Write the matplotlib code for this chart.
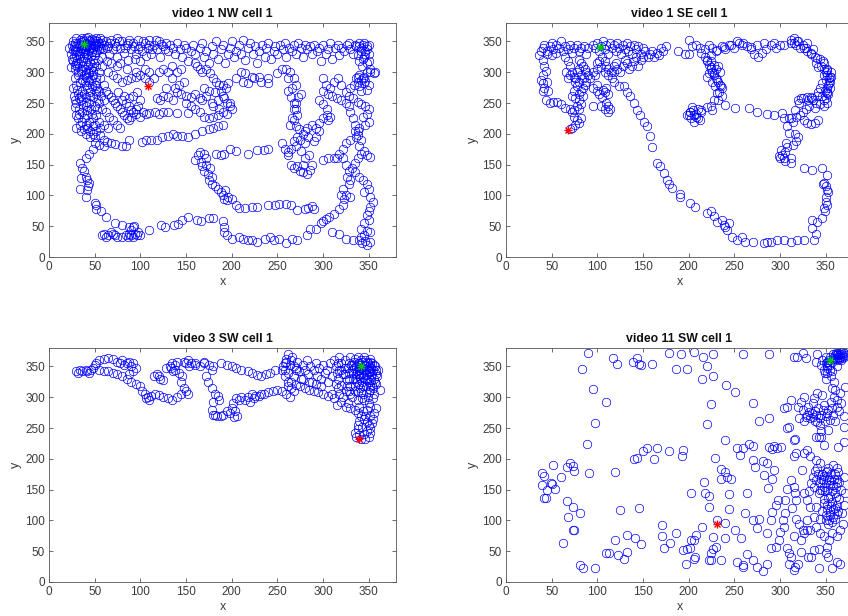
import numpy as np
import matplotlib
matplotlib.use("Agg")
import matplotlib.pyplot as plt

plt.rcParams['font.family'] = ['Liberation Sans', 'DejaVu Sans']

titles = ["video 1 NW cell 1", "video 1 SE cell 1", "video 3 SW cell 1", "video 11 SW cell 1"]
tick_values = [0, 50, 100, 150, 200, 250, 300, 350]

# ---- panel 1: video 1 NW ----
nw_pts = [
 (22,340),(25,345),(26,350),(28,335),(30,355),(30,342),(32,348),(33,330),(34,352),(35,340),(36,345),(37,335),(38,350),(39,342),
 (40,355),(41,338),(42,346),(43,330),(44,352),(45,340),(46,345),(47,333),(48,350),(50,342),(52,355),(53,336),(55,348),(57,340),
 (58,352),(60,345),(27,325),(31,320),(35,318),(38,325),(42,322),(45,315),(48,320),(50,328),(24,308),(28,305),(32,300),(36,310),
 (40,305),(44,298),(48,302),(52,310),(38,295),(42,290),(30,315),(26,318),(29,338),(33,344),(37,352),(41,347),(44,336),(49,345),
 (52,348),(55,338),(34,326),(39,332),(46,326),(51,333),(29,348),(36,356),(43,357),(50,352),(56,355),(24,330),(31,310),(47,308),
 (27,342),(31,335),(35,349),(38,338),(42,341),(45,350),(48,337),(51,346),(54,342),(57,347),(26,336),(30,328),(34,334),(40,328),
 (44,344),(47,354),(53,351),(59,338),(32,315),(37,318),(43,312),(49,315),(54,320),(25,322),(29,312),(36,303),(41,299),(46,305),
 (62,350),(65,343),(68,352),(70,338),(72,347),(75,355),(78,340),(80,350),(82,332),(85,345),(88,353),(90,338),(92,348),(95,330),
 (98,352),(100,342),(102,335),(105,348),(108,340),(110,352),(112,330),(115,345),(118,338),(120,350),(122,325),(125,342),(128,348),
 (130,335),(66,330),(74,325),(86,320),(94,322),(100,318),(106,326),(58,325),(64,318),(78,315),(63,340),(67,347),(73,342),(77,350),
 (83,340),(87,348),(93,343),(97,337),(103,350),(109,345),(113,338),(117,352),(123,346),(127,338),
 (133,345),(136,340),(138,330),(140,348),(143,338),(146,325),(148,345),(150,340),(152,318),(155,335),(158,345),(160,330),(162,310),
 (165,340),(168,348),(170,325),(172,335),(175,315),(178,342),(180,330),(183,350),(185,322),(188,338),(190,345),(193,315),(196,330),
 (198,340),(200,350),(203,325),(205,335),(208,345),(210,330),(212,352),(215,320),(218,340),(220,348),(223,330),(226,342),(228,315),
 (230,335),(233,345),(236,325),(238,340),(240,348),(243,322),(246,335),(248,343),(250,330),(253,345),(256,338),(258,348),(260,325),
 (263,340),(266,335),(268,345),(270,330),(273,348),(276,340),(278,325),(280,345),(283,338),(286,342),(288,330),(290,345),(293,335),
 (296,340),(298,318),(300,345),(303,330),(306,338),(308,348),(310,322),(313,340),(316,345),(318,328),(320,340),(323,335),(326,345),
 (328,348),(330,338),(333,330),(336,342),(339,348),(342,340),(344,345),(346,335),(348,342),(350,330),(345,325),(340,318),(343,310),
 (348,315),(352,305),(357,300),
 (160,315),(165,305),(168,300),(172,305),(176,298),(180,290),(183,285),(186,280),(188,270),(190,262),(192,258),(195,250),(198,245),
 (200,240),(182,268),(185,255),(178,250),(180,245),(190,280),(194,275),(196,282),(170,275),(175,270),(172,262),(168,255),(165,258),
 (160,265),(155,260),(150,262),(145,265),(140,268),(138,275),(142,280),(148,285),(135,290),(130,300),(125,305),(120,300),(140,300),
 (145,305),(135,310),(128,275),(125,262),(122,255),(118,258),(130,260),(136,255),(150,250),(155,245),(160,240),(165,235),(170,228),
 (175,225),(180,228),(185,230),(103,236),(106,232),(110,234),(116,235),(120,232),(125,235),(130,236),(140,234),(152,234),
 (60,280),(62,270),(65,265),(68,260),(70,255),(72,250),(75,245),(78,240),(80,235),(82,230),(85,225),(88,222),(90,228),(92,235),
 (95,240),(98,245),(100,255),(65,300),(70,295),(75,290),(80,285),(85,288),(90,290),(95,292),(100,295),(105,290),(110,285),(115,290),
 (110,300),(105,305),(95,300),(85,305),(75,310),(68,315),(60,255),(55,250),(58,240),(62,235),(66,228),(70,222),(74,215),(78,210),
 (65,210),(60,215),(55,220),(52,205),(56,198),(60,190),(64,186),(68,185),(72,183),(48,212),(45,205),(50,195),(40,215),(36,220),
 (32,225),(30,230),(33,240),(30,250),(35,255),(40,260),(32,265),(36,270),(42,275),(30,280),(34,285),(40,280),(45,268),(48,260),
 (52,265),(55,270),(50,280),(46,288),(52,292),(55,300),(58,310),(30,210),(35,205),(40,200),(45,195),(50,185),(55,182),(60,180),
 (76,268),(82,262),(88,258),(92,262),(96,268),(84,250),(88,245),(90,238),(95,232),(100,228),(80,255),
 (28,290),(32,295),(36,288),(40,292),(44,285),(48,295),(52,285),(56,290),(26,275),(38,265),(44,250),(50,245),(54,255),(46,240),
 (40,245),(36,235),(42,230),(48,225),(52,230),(38,225),(34,215),(42,210),(50,215),(56,210),(27,262),(33,258),(29,244),(37,247),
 (47,278),(53,275),(43,300),(35,302),(31,272),(39,284),(45,262),(51,270),(35,262),(41,252),(47,232),(33,232),(44,220),(38,208),
 (48,200),(53,240),(57,262),(28,255),(42,238),
 (48,175),(44,168),(40,160),(34,152),(36,145),(38,140),(40,130),(35,128),(34,110),(40,98),(44,120),(42,125),(43,115),(42,108),
 (50,88),(52,85),(52,78),(57,75),(62,65),(72,55),(80,52),(88,48),(93,50),(110,44),(123,52),(127,48),(137,52),(141,54),(146,60),
 (152,65),(162,60),(167,58),(175,63),(180,64),(190,58),(192,48),(192,40),(195,35),(200,30),(208,32),(212,30),(218,28),(222,27),
 (228,24),(236,30),(242,33),(246,28),(252,30),(260,22),(266,30),(272,28),(282,36),(286,45),(292,46),(298,55),(300,58),(303,62),
 (307,65),(312,70),(318,78),(322,84),(323,95),(325,100),(330,98),
 (58,35),(60,38),(65,35),(68,40),(70,38),(75,32),(80,33),(86,32),(88,38),(90,35),(92,32),(94,38),(96,35),(98,40),(100,36),(92,48),
 (90,44),(62,32),(72,35),(84,36),
 (80,180),(84,180),(88,190),(102,186),(106,190),(112,190),(118,190),(124,195),(130,196),(136,200),(140,196),(146,196),(152,195),
 (160,200),(168,205),(175,208),(180,210),(185,212),(190,215),
 (160,158),(163,165),(165,170),(170,168),(172,160),(168,148),(170,140),(174,135),(175,125),(178,118),(182,115),(185,110),(188,105),
 (190,100),(192,95),(195,92),(196,98),(193,108),(172,150),(176,145),(178,130),(166,155),
 (183,168),(188,165),(192,168),(198,175),(205,172),(218,168),(228,173),(235,174),(240,175),
 (200,95),(205,85),(208,80),(215,80),(222,82),(228,82),(240,84),(248,85),(252,86),(260,86),(265,85),(272,76),(280,78),(284,80),
 (290,78),(288,83),
 (255,185),(258,175),(262,165),(265,150),(268,145),(272,148),(275,140),(278,150),(280,160),(285,165),(288,150),(286,142),(282,135),
 (278,138),(275,190),(278,200),(280,205),(283,210),(288,215),(292,210),(296,218),(300,225),(304,230),(308,228),(306,222),(296,205),
 (292,195),(290,188),(270,180),(265,175),(262,170),(268,188),(272,195),(266,225),(268,240),(270,250),(273,260),(276,265),(270,280),
 (266,275),(268,290),(264,300),(260,305),(262,290),(276,172),(280,185),(284,195),(274,208),(270,212),
 (262,270),(265,260),(268,250),(270,240),(272,230),(268,222),(264,215),
 (205,290),(212,285),(218,283),(225,290),(232,285),(240,283),(210,300),(215,298),(222,292),(230,292),(240,290),(250,298),(255,305),
 (186,240),(190,235),(195,232),(198,250),
 (300,270),(305,265),(310,262),(315,258),(320,255),(325,250),(328,245),(330,235),(333,225),(335,215),(338,205),(336,195),(330,190),
 (325,185),(322,175),(318,168),(315,160),(300,290),(303,280),(308,275),(312,285),(316,290),(320,280),(296,255),(300,248),(304,240),
 (335,345),(340,342),(345,348),(348,338),(350,345),(346,330),(342,335),(338,328),(344,322),(350,318),(352,300),(356,298),(348,300),
 (345,292),(342,288),(338,285),(345,282),(350,280),(348,272),(342,270),(340,278),(336,290),(334,280),(330,275),(325,268),(328,262),
 (333,258),(338,252),(342,248),(346,245),(350,240),(348,232),(344,228),(350,220),(346,215),(340,210),(335,205),(338,198),(342,190),
 (340,180),(345,172),(348,165),(352,162),(342,168),(338,160),(335,152),(332,145),(335,138),(340,130),(344,125),(348,118),(350,110),
 (345,105),(352,98),(355,90),(352,82),(350,75),(348,68),(350,60),(345,55),(342,45),(348,42),(352,40),(345,35),(340,28),(343,22),
 (348,20),(352,25),(346,26),(342,32),(340,295),(344,290),(338,292),(346,286),
 (322,160),(312,160),(305,160),(300,158),(325,150),(328,140),(326,130),(330,125),(328,118),(322,110),(320,100),(310,40),(318,38),
 (325,30),(333,28),
]
nw_start = (38, 346)
nw_end = (108, 278)

# ---- panel 2: video 1 SE ----
se_pts = [
 (40,340),(42,345),(45,335),(48,342),(50,348),(52,338),(55,345),(58,340),(60,350),(62,335),(65,342),(68,338),(70,345),(72,332),
 (75,340),(78,345),(80,335),(82,340),(85,342),(88,330),(90,340),(45,330),(50,328),(55,332),(38,335),(36,328),(40,320),(42,310),
 (44,302),(40,295),(38,288),(40,282),(42,275),(40,270),(45,285),(46,270),(44,255),(48,250),(52,252),(56,252),(60,248),(65,242),
 (70,240),(72,235),(75,228),(78,222),(80,218),(82,225),(76,215),(72,210),(70,208),
 (65,325),(68,318),(70,310),(72,300),(74,292),(76,285),(78,278),(75,270),(72,262),(76,258),(80,255),(82,248),(78,245),(74,238),
 (80,240),(70,295),(66,300),(68,290),
 (80,320),(82,315),(84,310),(80,305),(78,300),(82,295),(85,290),(88,285),(86,280),(84,275),(80,285),(76,290),(82,270),(80,265),
 (84,262),(88,300),(90,295),(86,305),
 (95,275),(100,270),(102,265),(106,272),(108,268),(110,275),(112,265),(105,260),(104,245),(108,240),(110,250),(112,245),(114,240),
 (112,235),(95,245),(100,280),(92,290),(95,300),(98,295),(100,305),
 (95,345),(98,340),(100,348),(102,335),(104,342),(106,350),(108,338),(110,345),(112,330),(114,348),(116,340),(118,345),(120,335),
 (122,348),(124,340),(126,330),(128,345),(130,338),(132,348),(134,335),(136,342),(138,330),(140,345),(142,338),(145,342),(148,330),
 (150,340),(152,335),(155,325),(158,330),(160,335),(162,325),(165,332),(168,328),(170,340),(172,335),(175,342),(188,335),(200,352),
 (105,325),(108,318),(110,310),(112,305),(115,300),(118,310),(120,315),(122,305),(125,300),(128,310),(130,320),(132,315),(135,305),
 (138,310),(140,318),(145,310),(148,320),(150,325),(142,325),(100,315),(104,308),(108,300),(112,295),(116,290),(118,300),(102,318),
 (118,285),(124,278),(129,277),(132,268),(136,261),(140,250),(143,239),(147,230),(151,220),(154,212),(158,196),(160,179),(165,152),
 (169,147),(173,136),(176,125),(179,118),(182,112),(191,98),(191,103),(202,88),(207,82),(220,71),(224,74),(228,66),(231,57),
 (236,60),(239,52),(242,44),(240,48),(244,55),(248,33),(253,28),(258,32),(262,25),(271,25),(282,22),(286,25),(290,25),(297,27),
 (304,27),(312,25),(319,28),(326,28),(337,28),(339,38),(335,47),(335,60),(341,57),(346,63),(348,79),(350,90),(350,98),(352,109),
 (348,120),(352,133),(350,115),(353,105),(351,85),(349,75),(347,118),(346,144),(335,141),(326,144),
 (312,152),(304,160),(299,164),(301,174),(307,185),(310,201),(308,212),(312,225),(317,239),(321,250),(323,258),(331,255),(334,260),
 (341,261),(348,255),(352,266),(354,282),(355,293),(352,304),(348,315),(341,323),(334,331),(326,339),(319,350),(312,347),(304,344),
 (293,347),(282,347),(275,344),(268,341),(260,347),(253,350),(246,344),(239,341),(231,336),(224,328),(220,320),(224,309),(228,298),
 (231,287),(235,277),(231,266),(228,255),(220,244),(213,239),(206,231),(202,236),(198,231),
 (240,247),(251,242),(266,242),(275,236),(286,233),(293,231),(302,234),(304,225),
 (345,310),(348,305),(350,300),(352,295),(354,290),(355,285),(353,280),(351,275),(349,270),(352,268),(355,275),(356,300),(350,288),
 (348,295),(346,282),(344,275),(342,268),(346,262),(350,258),(353,265),(356,292),(351,305),(347,318),(344,322),
 (336,255),(340,250),(344,248),(348,246),(352,250),(338,242),(332,245),(328,240),(325,235),(322,230),(326,222),(330,218),(334,216),
 (338,218),(342,222),(318,228),(314,220),(310,225),(316,200),(320,195),(318,188),(314,182),(308,178),(305,170),(302,165),(300,160),
 (306,156),(312,160),
 (300,345),(296,340),(290,345),(285,338),(280,332),(276,325),(272,330),(268,338),(264,342),(258,345),(255,348),(250,340),(244,345),
 (240,338),(236,342),(230,335),(226,340),(222,345),(218,338),(214,332),(212,340),(208,345),(204,342),(200,330),(196,330),
 (218,325),(220,318),(222,312),(224,305),(226,300),(228,295),(230,290),(232,285),(234,280),(236,275),(230,305),(228,312),(225,318),
 (232,310),(234,300),(222,298),(220,292),(226,285),(229,278),(233,268),(236,262),(232,255),(224,245),(226,238),
 (200,230),(202,235),(205,238),(208,232),(210,225),(212,222),(206,220),(203,225),(208,228),(214,236),(210,240),(204,243),
 (312,352),(315,348),(318,345),(322,340),(325,345),(328,340),(330,335),(334,330),(338,325),(340,315),(342,308),(336,338),(330,348),
 (320,350),(315,355),(325,258),(320,255),(330,260),(335,258),
]
se_start = (103, 341)
se_end = (68, 206)

# ---- panel 3: video 3 SW ----
sw3_pts = [
 (30,343),(32,340),(34,345),(36,342),(40,345),(44,340),(46,344),(48,348),(50,352),(52,355),(55,360),(60,362),(65,363),(70,362),
 (75,358),(78,355),(80,360),(82,352),(85,356),(88,358),(90,350),(92,355),(95,348),(92,342),(88,338),(85,330),(90,325),(95,322),
 (100,318),(102,310),(105,305),(108,300),(110,295),(106,298),(112,302),(116,305),(120,303),(125,300),(130,298),(135,296),(140,300),
 (145,305),(150,310),(152,305),(148,315),(145,325),(146,335),(142,340),(138,345),(132,350),(128,348),(135,355),(140,358),(148,358),
 (152,360),(155,356),(160,352),(165,350),(170,355),(175,352),(178,345),(172,335),(174,325),(178,315),(182,305),(180,292),(178,280),
 (180,272),(184,270),(190,272),(195,278),(200,282),(204,278),(206,270),(202,290),(205,298),(210,300),(215,295),(220,292),(225,298),
 (230,302),(235,305),(240,308),(245,310),(250,312),(255,310),(260,305),(264,300),(265,315),(262,325),(258,335),(255,345),(258,355),
 (260,362),(262,370),(265,360),(268,350),(270,345),
 (42,342),(55,345),(60,343),(65,342),(70,340),(75,338),(80,335),(118,338),(120,335),(122,330),(125,328),(115,335),(134,348),
 (136,342),(138,352),(150,355),(153,350),(185,302),(186,296),(182,272),(188,270),(198,275),(203,268),(208,295),(218,300),(222,305),
 (226,302),(232,306),
 (160,355),(170,358),(180,350),(188,356),(195,352),(200,350),(205,348),(210,345),(218,342),(222,340),(228,336),(232,334),(238,338),
 (242,340),(248,345),
 (256,350),(258,345),(260,358),(262,340),(264,352),(266,365),(268,335),(270,348),(272,358),(274,342),(276,330),(278,352),(280,345),
 (282,360),(284,338),(286,350),(288,325),(290,345),(292,355),(294,335),(296,348),(298,330),(300,352),(302,340),(304,345),(306,325),
 (308,355),(310,335),(265,325),(270,320),(275,318),(280,315),(285,312),(290,310),(295,308),(300,305),(305,302),(310,305),(278,330),
 (285,325),(292,322),(298,318),(268,310),(262,318),
 (312,360),(314,350),(315,340),(316,330),(318,365),(318,345),(320,355),(320,320),(322,338),(322,300),(324,360),(324,348),(325,310),
 (326,328),(327,290),(328,355),(329,340),(330,365),(330,318),(332,345),(332,300),(333,330),(334,358),(335,310),(336,350),(336,338),
 (337,325),(338,365),(338,295),(339,345),(340,355),(340,335),(341,315),(342,348),(342,360),(343,325),(344,340),(344,305),(345,352),
 (345,365),(346,330),(347,345),(347,318),(348,358),(348,338),(349,300),(350,350),(350,325),(351,362),(352,342),(352,312),(353,335),
 (354,355),(354,320),(355,345),(356,330),(356,305),(357,350),(358,338),(358,322),(360,345),(362,312),(345,295),(340,285),(350,290),
 (355,298),(335,280),(330,282),(325,285),(320,292),(318,305),(316,315),(315,288),(312,298),
 (331,352),(337,343),(343,357),(349,346),(341,331),(346,360),(352,352),(339,322),(335,362),(327,348),(333,340),(344,333),(349,355),
 (353,348),(326,318),(330,305),(338,308),(343,298),(350,308),(355,315),
 (334,348),(338,356),(342,338),(346,352),(350,342),(354,338),(348,328),(344,318),(340,345),(336,330),(352,358),(356,352),(358,345),
 (345,345),(341,352),(347,336),(353,328),(339,338),(333,352),(329,330),(324,338),(320,345),(317,355),(314,322),(328,310),(335,318),
 (342,308),(351,318),(357,325),(359,335),
 (338,275),(342,270),(345,265),(348,260),(350,255),(352,250),(348,245),(345,240),(340,238),(336,236),(335,242),(338,248),(342,232),
 (346,232),(350,236),(352,242),(355,265),(356,275),(358,282),(352,285),(348,280),(344,278),(340,262),(338,255),(343,252),(346,270),
 (354,258),(351,270),
]
sw3_start = (342, 350)
sw3_end = (340, 232)

# ---- panel 4: video 11 SW ----
sw11_pts = [
 (90,372),(117,363),(122,354),(139,358),(143,363),(146,354),(148,352),(160,354),(178,372),(186,346),(192,370),(198,346),(206,373),
 (216,365),(220,351),(215,329),(227,335),(227,371),(225,289),(220,257),(241,320),(251,309),(260,371),(270,290),(277,262),(288,371),
 (288,266),(83,346),(95,313),(109,292),(98,258),(89,224),(91,177),(119,178),(125,117),(146,120),(132,76),(141,71),(148,61),
 (123,44),(129,38),(133,48),(113,47),(110,47),(119,69),(98,22),(84,22),(81,28),(62,63),(73,85),(74,84),(68,105),(73,122),(81,112),
 (67,131),(70,193),(73,189),(74,180),(67,187),(60,170),(52,190),(54,151),(50,159),(49,161),(45,150),(44,136),(42,136),(39,177),
 (42,172),(39,157),(150,212),(154,217),(144,201),(140,199),(162,200),(165,218),(179,212),(194,215),(193,205),(203,145),(197,30),
 (206,38),(207,40),(208,76),(201,55),(198,53),(194,52),(203,68),(206,69),(186,80),(180,64),(173,56),(171,74),(171,93),(217,163),
 (218,145),(222,140),(222,121),(215,90),(231,101),(240,96),(230,57),(227,53),(224,47),(224,36),(222,35),(235,36),(240,71),(227,73),
 (235,183),(240,178),(242,171),(235,167),(246,167),(244,143),(244,118),(240,231),(229,201),(253,218),(256,206),(260,217),(266,224),
 (271,221),(264,145),(262,112),(251,85),(257,71),(253,33),(259,28),(260,25),(264,45),(271,36),(275,25),(281,18),(286,29),(275,87),
 (286,79),(277,103),(270,101),(270,198),(273,187),(281,196),(283,174),(286,193),(287,153),(291,168),(293,182),(293,221),(297,217),
 (301,220),(291,216),(288,220),(290,101),(291,114),(296,125),(298,133),(290,55),(296,57),(299,69),(300,82),(303,101),(304,90),
 (306,112),(306,133),(308,151),(308,56),(310,47),(312,41),(310,30),(315,19),(317,25),(320,30),
 (304,282),(308,285),(312,296),(308,250),(310,252),(315,231),(317,233),(315,204),(318,209),(326,209),(324,182),(312,166),(315,155),
 (316,144),(318,133),(313,120),(318,103),(321,95),(315,74),(323,68),(326,79),(330,85),(323,49),(331,41),(343,22),(334,41),(337,52),
 (343,53),(350,47),(353,41),(357,22),(363,33),(366,30),(354,68),(357,79),(363,74),(366,85),(369,95),(368,112),(370,125),
 (315,366),(319,366),(328,363),(325,372),(341,371),(339,358),(346,361),(350,366),(352,350),(355,353),(357,342),(350,329),(357,315),
 (359,301),(366,307),(371,317),(346,304),(341,307),(337,298),(326,301),(323,293),(320,285),(325,280),(330,271),(333,266),(326,261),
 (321,266),(340,271),(344,266),(344,255),(339,236),(343,236),(348,223),(353,247),(355,263),(353,280),(357,282),(363,285),(370,269),
 (370,252),(370,228),(364,220),(345,236),(330,214),(333,204),(339,198),(344,193),(340,166),(348,155),(343,144),(337,155),(332,147),
 (326,144),(330,133),(333,122),(340,122),(337,106),(344,103),(330,101),(325,85),(333,85),(340,90),(344,79),(348,74),(352,57),
 (365,163),(370,171),(371,144),
 (342,175),(345,168),(348,172),(350,160),(352,150),(354,165),(356,175),(358,158),(360,145),(362,168),(355,140),(350,178),(346,150),
 (357,130),(352,125),(355,115),(358,105),(360,120),(362,110),(350,108),(354,100),(365,135),(348,135),(361,155),(364,178),(353,185),
 (338,180),(358,190),(367,150),(344,160),
 (347,165),(351,170),(355,158),(359,168),(363,160),(349,147),(353,137),(357,148),(361,138),(346,175),(352,180),(356,166),(360,175),
 (344,150),(348,128),(351,118),(355,108),(358,118),(362,125),(353,95),(357,98),(360,102),(346,115),(364,115),(350,100),(356,124),
 (334,160),(336,170),(341,185),(362,185),
 (345,245),(350,270),(352,275),(347,280),(342,282),(336,290),(331,285),(335,275),(338,262),(360,262),(362,295),(367,290),
 (338,278),(345,272),(349,262),(332,276),(328,268),(336,268),(341,260),(348,287),(358,272),(365,278),
 (348,345),(352,340),(355,365),(358,370),(360,362),(362,368),(364,372),(366,365),(368,370),(370,366),(363,360),(367,360),(365,368),
 (369,373),(361,372),(357,358),(353,357),(350,355),(356,335),(362,350),(359,325),(360,312),(356,292),
 (364,366),(366,370),(368,364),(370,372),(362,364),(367,373),(369,367),(363,370),(365,362),(371,369),(360,368),(358,364),
 (354,360),(352,348),(349,340),(355,345),(345,352),(351,358),
]
sw11_start = (355, 361)
sw11_end = (231, 95)

panels = [
    (nw_pts, nw_start, nw_end),
    (se_pts, se_start, se_end),
    (sw3_pts, sw3_start, sw3_end),
    (sw11_pts, sw11_start, sw11_end),
]

W, H = 848, 616
fig = plt.figure(figsize=(W / 100, H / 100), dpi=100)
boxes = [
    (49, 23, 347, 234),
    (506, 23, 347, 234),
    (49, 348, 347, 234),
    (506, 348, 347, 234),
]
axis_col = '#555555'
text_col = '#3c3c3c'
for (pts, start, end), title, (l, t, w, h) in zip(panels, titles, boxes):
    ax = fig.add_axes([l / W, (H - t - h) / H, w / W, h / H])
    arr = np.array(pts, dtype=float)
    ax.plot(arr[:, 0], arr[:, 1], linestyle='none', marker='o', markersize=6.1,
            markerfacecolor='none', markeredgecolor='#0000ff', markeredgewidth=0.5)
    for pt, col in ((start, '#00cc00'), (end, '#ff0000')):
        for m in ('+', 'x'):
            ax.plot([pt[0]], [pt[1]], linestyle='none', marker=m, markersize=5.5 if m == '+' else 4.2,
                    color=col, markeredgewidth=1.0)
    ax.set_xlim(0, 380)
    ax.set_ylim(0, 380)
    ax.set_xticks(tick_values)
    ax.set_yticks(tick_values)
    ax.tick_params(direction='in', top=True, right=True, length=3, width=0.6,
                   labelsize=8.5, colors=axis_col, labelcolor=text_col, pad=3)
    for s in ax.spines.values():
        s.set_color(axis_col)
        s.set_linewidth(0.6)
    ax.set_title(title, fontsize=8.8, fontweight='bold', color='#111111', pad=4)
    ax.set_xlabel('x', fontsize=9, color=text_col, labelpad=2)
    ax.set_ylabel('y', fontsize=9, color=text_col, labelpad=2)

fig.savefig('out.png', dpi=100)
